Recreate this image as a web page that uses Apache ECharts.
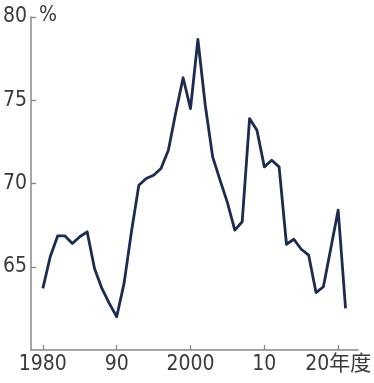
<!DOCTYPE html>
<html>
<head>
<meta charset="utf-8">
<script src="https://cdn.jsdelivr.net/npm/echarts@6/dist/echarts.min.js"></script>
<style>
  html, body { margin: 0; padding: 0; background: #fff; }
  #chart { width: 374px; height: 383px; }
</style>
</head>
<body>
<div id="chart"></div>
<script>
// Fiscal years and the yearly percentage series
const years = [1980, 1981, 1982, 1983, 1984, 1985, 1986, 1987, 1988, 1989,
               1990, 1991, 1992, 1993, 1994, 1995, 1996, 1997, 1998, 1999,
               2000, 2001, 2002, 2003, 2004, 2005, 2006, 2007, 2008, 2009,
               2010, 2011, 2012, 2013, 2014, 2015, 2016, 2017, 2018, 2019,
               2020, 2021];
const values = [63.7, 65.6, 66.85, 66.85, 66.4, 66.8, 67.1, 64.9, 63.7, 62.8,
                62.0, 64.0, 67.1, 69.9, 70.3, 70.5, 70.9, 72.0, 74.25, 76.35,
                74.5, 78.65, 74.7, 71.6, 70.2, 68.85, 67.2, 67.7, 73.9, 73.2,
                71.0, 71.4, 71.0, 66.35, 66.65, 66.05, 65.7, 63.45, 63.8, 66.1,
                68.4, 62.5];

// Axis ticks and their printed labels
const xTickValues = [1980, 1990, 2000, 2010, 2020];
const xTickLabels = ['1980', '90', '2000', '10', '20年度'];
const yTickValues = [65, 70, 75, 80];
const yTickLabels = ['65', '70', '75', '80'];
const unitLabel = '%';

const FONT = '"Liberation Sans Narrow", "DejaVu Sans Condensed", "Noto Sans CJK JP", sans-serif';
const TEXT = '#3a3a3a';
const AXIS = '#888888';

const chart = echarts.init(document.getElementById('chart'), null, { renderer: 'canvas' });

chart.setOption({
  animation: false,
  backgroundColor: '#fff',
  grid: { left: 28, right: 10, top: 17, bottom: 33, containLabel: false },
  graphic: [{
    type: 'text',
    left: 39,
    top: 5,
    style: { text: unitLabel, font: '21px ' + FONT, fill: TEXT }
  }],
  xAxis: {
    type: 'value',
    min: 1978.4,
    max: 2022.7,
    splitLine: { show: false },
    axisLine: { show: true, lineStyle: { color: AXIS, width: 1.5 } },
    axisTick: {
      show: true, inside: true, length: 5,
      customValues: xTickValues,
      lineStyle: { color: AXIS, width: 1.3 }
    },
    axisLabel: {
      customValues: xTickValues,
      margin: 4,
      color: TEXT,
      fontSize: 21,
      fontFamily: FONT,
      formatter: v => xTickLabels[xTickValues.indexOf(Math.round(v))] || ''
    }
  },
  yAxis: {
    type: 'value',
    min: 60,
    max: 80,
    interval: 5,
    splitLine: { show: false },
    axisLine: { show: true, lineStyle: { color: AXIS, width: 1.5 } },
    axisTick: {
      show: true, inside: true, length: 5,
      customValues: yTickValues,
      lineStyle: { color: AXIS, width: 1.3 }
    },
    axisLabel: {
      customValues: yTickValues,
      margin: 4,
      color: TEXT,
      fontSize: 21,
      fontFamily: FONT,
      formatter: v => yTickLabels[yTickValues.indexOf(Math.round(v))] || ''
    }
  },
  series: [{
    type: 'line',
    data: years.map((y, i) => [y, values[i]]),
    symbol: 'none',
    lineStyle: { color: '#1d2b50', width: 2.8, join: 'round' },
    clip: false
  }]
});
</script>
</body>
</html>
